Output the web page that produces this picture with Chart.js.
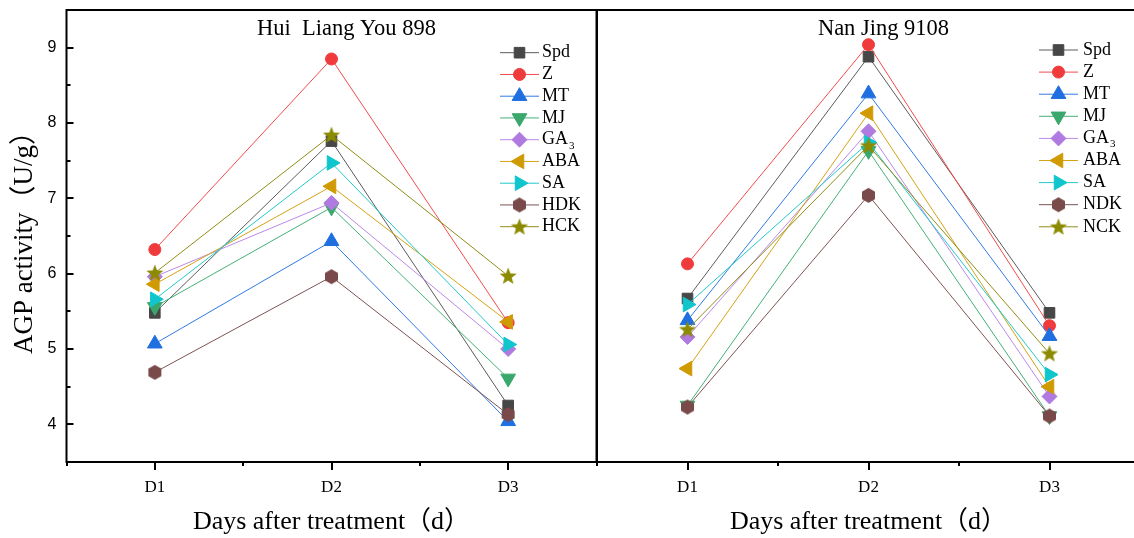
<!DOCTYPE html>
<html>
<head>
<meta charset="utf-8">
<script src="https://cdn.jsdelivr.net/npm/chart.js@4.4.1/dist/chart.umd.min.js"></script>
<style>
    html, body { margin: 0; padding: 0; background: #fff; overflow: hidden; }
    body { width: 1134px; height: 538px; position: relative; }
    canvas { position: absolute; top: 0; }
    #leftChart { left: 0; }
    #rightChart { left: 560px; }
</style>
</head>
<body>
<canvas id="leftChart" width="600" height="538"></canvas>
<canvas id="rightChart" width="600" height="538"></canvas>
<script>

// categories and tick labels
const days = ["D1", "D2", "D3"];
const yTicks = [4, 5, 6, 7, 8, 9];

const leftNames = ["Spd", "Z", "MT", "MJ", "GA3", "ABA", "SA", "HDK", "HCK"];
const rightNames = ["Spd", "Z", "MT", "MJ", "GA3", "ABA", "SA", "NDK", "NCK"];

// Hui Liang You 898
const hlySpd = [5.48, 7.76, 4.25];
const hlyZ = [6.32, 8.85, 5.35];
const hlyMT = [5.07, 6.43, 4.04];
const hlyMJ = [5.56, 6.88, 4.61];
const hlyGA3 = [5.96, 6.94, 5.00];
const hlyABA = [5.86, 7.16, 5.36];
const hlySA = [5.66, 7.47, 5.06];
const hlyHDK = [4.69, 5.96, 4.13];
const hlyHCK = [6.01, 7.84, 5.97];

// Nan Jing 9108
const njSpd = [5.67, 8.88, 5.48];
const njZ = [6.13, 9.04, 5.31];
const njMT = [5.38, 8.39, 5.17];
const njMJ = [4.25, 7.63, 4.11];
const njGA3 = [5.16, 7.89, 4.37];
const njABA = [4.74, 8.13, 4.50];
const njSA = [5.59, 7.74, 4.66];
const njNDK = [4.23, 7.04, 4.11];
const njNCK = [5.26, 7.70, 4.94];

const leftSeries = [hlySpd, hlyZ, hlyMT, hlyMJ, hlyGA3, hlyABA, hlySA, hlyHDK, hlyHCK];
const rightSeries = [njSpd, njZ, njMT, njMJ, njGA3, njABA, njSA, njNDK, njNCK];

const SERIF = "'Liberation Serif', 'Noto Sans CJK SC', serif";
const SANS = "'Liberation Sans', Arial, sans-serif";

function makeHexagon(color, r) {
    const c = document.createElement("canvas");
    const s = Math.ceil(r * 2) + 2;
    c.width = s;
    c.height = s;
    const g = c.getContext("2d");
    g.fillStyle = color;
    g.beginPath();
    for (let k = 0; k < 6; k++) {
        const a = Math.PI / 2 + k * Math.PI / 3;
        const px = s / 2 + r * Math.cos(a);
        const py = s / 2 - r * Math.sin(a);
        if (k === 0) g.moveTo(px, py); else g.lineTo(px, py);
    }
    g.closePath();
    g.fill();
    return c;
}

function makeStar(color, outer, inner) {
    const c = document.createElement("canvas");
    const s = Math.ceil(outer * 2) + 2;
    c.width = s;
    c.height = s;
    const g = c.getContext("2d");
    g.fillStyle = color;
    g.beginPath();
    for (let k = 0; k < 10; k++) {
        const r = k % 2 === 0 ? outer : inner;
        const a = -Math.PI / 2 + k * Math.PI / 5;
        const px = s / 2 + r * Math.cos(a);
        const py = s / 2 + 0.6 + r * Math.sin(a);
        if (k === 0) g.moveTo(px, py); else g.lineTo(px, py);
    }
    g.closePath();
    g.fill();
    return c;
}

const styles = [
    { line: "#5c5c5c", fill: "#474747", point: "rect", radius: 7.5, rotation: 0 },
    { line: "#f24b4b", fill: "#ef3b3b", point: "circle", radius: 6, rotation: 0 },
    { line: "#2f7ae6", fill: "#1f6fe0", point: "triangle", radius: 8.5, rotation: 0 },
    { line: "#43b077", fill: "#3aa86c", point: "triangle", radius: 8.5, rotation: 180 },
    { line: "#bb88e8", fill: "#b07ae0", point: "rectRot", radius: 7.5, rotation: 0 },
    { line: "#d4a214", fill: "#cf9a02", point: "triangle", radius: 8.5, rotation: 270 },
    { line: "#22caca", fill: "#10c6cc", point: "triangle", radius: 8.5, rotation: 90 },
    { line: "#7d5252", fill: "#7a4a4a", point: makeHexagon("#7a4a4a", 7.5), radius: 7, rotation: 0 },
    { line: "#908d14", fill: "#8c8a00", point: makeStar("#8c8a00", 9, 3.8), radius: 7, rotation: 0 }
];

function buildDatasets(names, series) {
    return names.map((name, i) => ({
        label: name,
        data: series[i].map((v, j) => ({ x: j + 1, y: v })),
        borderColor: styles[i].line,
        backgroundColor: styles[i].fill,
        borderWidth: 1,
        pointStyle: styles[i].point,
        pointRadius: styles[i].radius,
        pointRotation: styles[i].rotation,
        pointBackgroundColor: styles[i].fill,
        pointBorderColor: styles[i].fill,
        pointBorderWidth: 1,
        order: names.length - i,
        tension: 0
    }));
}

// no automatic label padding, the plot box is fixed by layout.padding
function clearPadding(s) {
    s.paddingTop = 0;
    s.paddingBottom = 0;
    s.paddingLeft = 0;
    s.paddingRight = 0;
}

// frame + tick marks (y ticks inward, x ticks outward)
const framePlugin = {
    id: "frame",
    afterDatasetsDraw(chart, args, opts) {
        const ctx = chart.ctx;
        const a = chart.chartArea;
        const xs = chart.scales.x;
        const ys = chart.scales.y;
        ctx.save();
        ctx.strokeStyle = "#000";
        ctx.lineWidth = 2;
        ctx.strokeRect(a.left, a.top, a.right - a.left, a.bottom - a.top);
        ctx.beginPath();
        for (let v = xs.min; v <= xs.max + 0.01; v += 0.5) {
            const px = Math.round(xs.getPixelForValue(v));
            const len = Number.isInteger(v) ? 8 : 4;
            ctx.moveTo(px, a.bottom);
            ctx.lineTo(px, a.bottom + len);
        }
        if (opts.yTicks) {
            for (let v = ys.min; v <= ys.max + 0.01; v += 0.5) {
                const py = Math.round(ys.getPixelForValue(v));
                const len = Number.isInteger(v) ? 7 : 4;
                ctx.moveTo(a.left, py);
                ctx.lineTo(a.left + len, py);
            }
        }
        ctx.stroke();

        ctx.fillStyle = "#000";
        ctx.font = "22.5px " + SERIF;
        ctx.textAlign = "center";
        ctx.textBaseline = "alphabetic";
        ctx.fillText(opts.title, (a.left + a.right) / 2 + opts.titleShift, 35);
        ctx.restore();
    }
};

// legend with line + marker, drawn inside the plot
const sideLegend = {
    id: "sideLegend",
    afterDatasetsDraw(chart, args, opts) {
        const ctx = chart.ctx;
        const x0 = chart.chartArea.right - opts.right;
        ctx.save();
        chart.data.datasets.forEach((ds, i) => {
            const y = opts.top + i * opts.step;
            ctx.strokeStyle = ds.borderColor;
            ctx.lineWidth = 1;
            ctx.beginPath();
            ctx.moveTo(x0, y);
            ctx.lineTo(x0 + 39, y);
            ctx.stroke();
            ctx.fillStyle = ds.pointBackgroundColor;
            ctx.strokeStyle = ds.pointBorderColor;
            Chart.helpers.drawPoint(ctx, {
                pointStyle: ds.pointStyle,
                radius: ds.pointRadius,
                rotation: ds.pointRotation,
                borderWidth: 1
            }, x0 + 19.5, y);

            ctx.fillStyle = "#000";
            ctx.textAlign = "left";
            ctx.textBaseline = "middle";
            ctx.font = "18px " + SERIF;
            const m = ds.label.match(/^([A-Za-z]+)(\d+)$/);
            if (m) {
                ctx.fillText(m[1], x0 + opts.textGap, y);
                const w = ctx.measureText(m[1]).width;
                ctx.font = "11px " + SERIF;
                ctx.fillText(m[2], x0 + opts.textGap + w + 1, y + 6);
            } else {
                ctx.fillText(ds.label, x0 + opts.textGap, y);
            }
        });
        ctx.restore();
    }
};

function makeChart(id, names, series, conf) {
    return new Chart(document.getElementById(id), {
        type: "line",
        data: { datasets: buildDatasets(names, series) },
        plugins: [framePlugin, sideLegend],
        options: {
            responsive: false,
            animation: false,
            devicePixelRatio: 1,
            layout: { padding: conf.padding, autoPadding: false },
            plugins: {
                legend: { display: false },
                tooltip: { enabled: false },
                frame: { yTicks: conf.yLabels, title: conf.title, titleShift: 15 },
                sideLegend: conf.legend
            },
            scales: {
                x: {
                    type: "linear",
                    min: 0.5,
                    max: 3.5,
                    afterBuildTicks: (s) => { s.ticks = days.map((d, i) => ({ value: i + 1 })); },
                    afterFit: (s) => { s.height = 76; clearPadding(s); },
                    grid: { display: false, drawTicks: false },
                    border: { display: false },
                    ticks: {
                        padding: 15,
                        autoSkip: false,
                        maxRotation: 0,
                        color: "#000",
                        font: { family: SERIF, size: 17 },
                        callback: (v) => days[v - 1]
                    },
                    title: {
                        display: true,
                        text: "Days after treatment（d）",
                        color: "#000",
                        font: { family: SERIF, size: 26 },
                        padding: { top: 0, bottom: 0 }
                    }
                },
                y: {
                    type: "linear",
                    min: 3.5,
                    max: 9.5,
                    afterBuildTicks: (s) => { s.ticks = yTicks.map((v) => ({ value: v })); },
                    afterFit: (s) => { s.width = conf.yWidth; clearPadding(s); },
                    grid: { display: false, drawTicks: false },
                    border: { display: false },
                    ticks: {
                        display: conf.yLabels,
                        padding: 10,
                        color: "#000",
                        font: { family: SANS, size: 16 }
                    },
                    title: {
                        display: conf.yLabels,
                        text: "AGP activity（U/g）",
                        color: "#000",
                        font: { family: SERIF, size: 27 },
                        padding: { top: 9, bottom: 0 }
                    }
                }
            }
        }
    });
}

makeChart("leftChart", leftNames, leftSeries, {
    padding: { top: 10, right: 3.5, bottom: 0, left: 0 },
    yWidth: 66.5,
    yLabels: true,
    title: "Hui  Liang You 898",
    legend: { right: 96.5, top: 52.7, step: 21.75, textGap: 42 }
});

makeChart("rightChart", rightNames, rightSeries, {
    padding: { top: 10, right: 20, bottom: 0, left: 0 },
    yWidth: 37,
    yLabels: false,
    title: "Nan Jing 9108",
    legend: { right: 101, top: 50, step: 22.1, textGap: 44 }
});

</script>
</body>
</html>
